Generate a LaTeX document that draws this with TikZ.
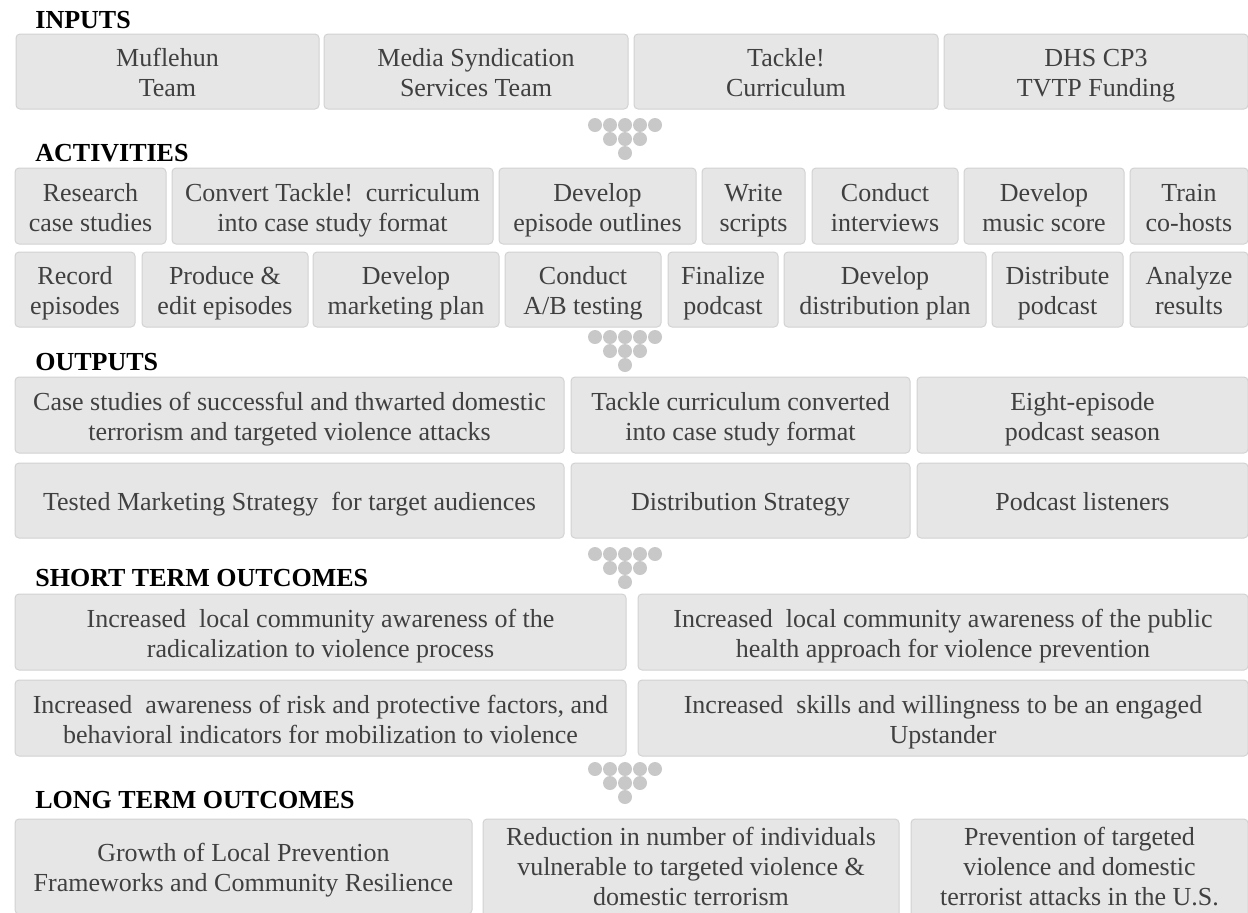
\documentclass[tikz,border=0pt]{standalone}
\usepackage{fontspec}
\setmainfont{Liberation Serif}
\definecolor{boxfill}{HTML}{E6E6E6}
\definecolor{boxline}{HTML}{D2D2D2}
\definecolor{txt}{HTML}{404040}
\definecolor{dotc}{HTML}{C8C8C8}
\tikzset{
  box/.style={fill=boxfill, draw=boxline, line width=0.5pt, rounded corners=2pt,
    inner sep=0pt, outer sep=0pt, align=center, text=txt,
    font=\fontsize{13}{15}\selectfont, anchor=north west},
  heading/.style={anchor=base west, inner sep=0pt, text=black,
    font=\bfseries\fontsize{13}{15}\selectfont},
  dotstyle/.style={fill=dotc}
}
\newcommand\bx[7][3pt]{\node[box, minimum width={#5*0.5pt}, minimum height={#6*0.5pt}] (#2) at (#3,#4) {\rule{0pt}{13pt}#7\rule[-#1]{0pt}{#1}};}
\newcommand\dotgroup[2]{%
  \foreach \dx in {-30,-15,0,15,30} \fill[dotstyle] (#1+\dx,#2) circle[radius=3.5pt];
  \foreach \dx in {-15,0,15} \fill[dotstyle] (#1+\dx,#2+14) circle[radius=3.5pt];
  \fill[dotstyle] (#1,#2+28) circle[radius=3.5pt];}
\begin{document}
\begin{tikzpicture}[x=0.5pt,y=-0.5pt]
\useasboundingbox (0,0) rectangle (1248,912);
% headings
\node[heading] (hin) at (35,28) {INPUTS};
\node[heading] (hact) at (35,161) {ACTIVITIES};
\node[heading] (hout) at (35,370) {OUTPUTS};
\node[heading] (hst) at (35,586) {SHORT TERM OUTCOMES};
\node[heading] (hlt) at (35,808) {LONG TERM OUTCOMES};
% inputs
\bx{i1}{16}{34}{303}{75}{Muflehun\\Team}
\bx{i2}{324}{34}{304}{75}{Media Syndication\\Services Team}
\bx{i3}{634}{34}{304}{75}{Tackle!\\Curriculum}
\bx{i4}{944}{34}{304}{75}{DHS CP3\\TVTP Funding}
\dotgroup{625}{125}
% activities row 1
\bx{a1}{15}{168}{151}{76}{Research\\case studies}
\bx{a2}{172}{168}{321}{76}{Convert Tackle!\ \ curriculum\\into case study format}
\bx{a3}{499}{168}{197}{76}{Develop\\episode outlines}
\bx{a4}{702}{168}{103}{76}{Write\\scripts}
\bx{a5}{812}{168}{146}{76}{Conduct\\interviews}
\bx{a6}{964}{168}{160}{76}{Develop\\music score}
\bx{a7}{1130}{168}{118}{76}{Train\\co-hosts}
% activities row 2
\bx{b1}{15}{252}{120}{75}{Record\\episodes}
\bx{b2}{142}{252}{166}{75}{Produce \&\\edit episodes}
\bx{b3}{313}{252}{186}{75}{Develop\\marketing plan}
\bx{b4}{505}{252}{156}{75}{Conduct\\A/B testing}
\bx{b5}{668}{252}{110}{75}{Finalize\\podcast}
\bx{b6}{784}{252}{202}{75}{Develop\\distribution plan}
\bx{b7}{992}{252}{131}{75}{Distribute\\podcast}
\bx{b8}{1130}{252}{118}{75}{Analyze\\results}
\dotgroup{625}{337}
% outputs
\bx{o1}{15}{377}{549}{76}{Case studies of successful and thwarted domestic\\terrorism and targeted violence attacks}
\bx{o2}{571}{377}{339}{76}{Tackle curriculum converted\\into case study format}
\bx{o3}{917}{377}{331}{76}{Eight-episode\\podcast season}
\bx{o4}{15}{463}{549}{75}{Tested Marketing Strategy\ \ for target audiences}
\bx{o5}{571}{463}{339}{75}{Distribution Strategy}
\bx{o6}{917}{463}{331}{75}{Podcast listeners}
\dotgroup{625}{554}
% short term
\bx{s1}{15}{594}{611}{76}{Increased\ \ local community awareness of the\\radicalization to violence process}
\bx{s2}{638}{594}{610}{76}{Increased\ \ local community awareness of the public\\health approach for violence prevention}
\bx{s3}{15}{680}{611}{76}{Increased\ \ awareness of risk and protective factors, and\\behavioral indicators for mobilization to violence}
\bx{s4}{638}{680}{610}{76}{Increased\ \ skills and willingness to be an engaged\\Upstander}
\dotgroup{625}{769}
% long term
\bx{l1}{15}{819}{457}{95}{Growth of Local Prevention\\Frameworks and Community Resilience}
\bx[10pt]{l2}{483}{819}{416}{95}{Reduction in number of individuals\\vulnerable to targeted violence \&\\domestic terrorism}
\bx[10pt]{l3}{911}{819}{337}{95}{Prevention of targeted\\violence and domestic\\terrorist attacks in the U.S.}
\end{tikzpicture}
\end{document}
